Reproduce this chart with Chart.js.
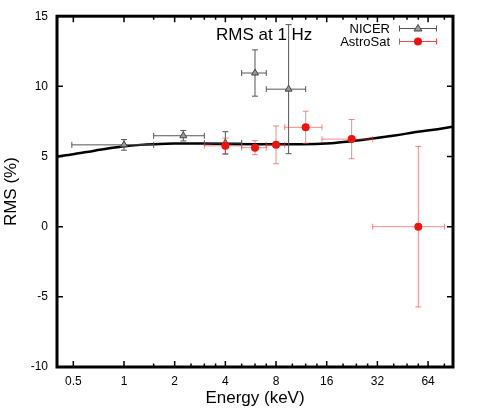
<!DOCTYPE html>
<html>
<head>
<meta charset="utf-8">
<script src="https://cdn.jsdelivr.net/npm/chart.js@4/dist/chart.umd.min.js"></script>
<style>
  html, body { margin: 0; padding: 0; background: #fff; }
  #c { display: block; }
</style>
</head>
<body>
<canvas id="c" width="477" height="409"></canvas>
<script>
// ---- data ----
const nicerE    = [1.0, 2.25, 4.0, 6.0, 9.5];
const nicerELo  = [0.49, 1.5, 3.0, 5.0, 7.0];
const nicerEHi  = [1.5, 3.0, 5.0, 7.0, 12.0];
const nicerRms  = [5.83, 6.48, 5.97, 10.95, 9.8];
const nicerErr  = [0.38, 0.37, 0.8, 1.65, 4.6];

const astroE    = [4.0, 6.0, 8.0, 12.0, 22.5, 56.0];
const astroELo  = [3.0, 5.0, 7.0, 9.0, 15.0, 30.0];
const astroEHi  = [5.0, 7.0, 9.0, 15.0, 30.0, 80.0];
const astroRms  = [5.76, 5.63, 5.83, 7.08, 6.24, 0.0];
const astroErr  = [0.55, 0.5, 1.35, 1.15, 1.4, 5.72];

const modelE    = [0.4, 0.5, 0.6, 0.8, 1.0, 1.25, 1.5, 2, 3, 4, 6, 8, 11, 17, 22.7, 30, 41.5, 55.7, 73, 90];
const modelRms  = [5.0, 5.16, 5.32, 5.57, 5.73, 5.83, 5.88, 5.92, 5.92, 5.9, 5.88, 5.88, 5.88, 5.95, 6.1, 6.28, 6.52, 6.76, 6.95, 7.13];

const xTickValues = [0.5, 1, 2, 4, 8, 16, 32, 64];
const xTickLabels = ['0.5', '1', '2', '4', '8', '16', '32', '64'];
const xMinorTicks = [1.5, 2.5, 3, 3.5, 5, 6, 7, 10, 12, 14, 20, 24, 28, 40, 48, 56, 80];
const yTickValues = [-10, -5, 0, 5, 10, 15];

const FONT = '"Liberation Sans", Arial, Helvetica, sans-serif';
const RED = '#e8140f';
const RED_ERR = 'rgba(236, 60, 55, 0.6)';
const GRAY_ERR = '#555555';

const pts = (xs, ys) => xs.map((x, i) => ({ x: x, y: ys[i] }));

// error bars drawn just before each dataset
const errorBarPlugin = {
  id: 'errorBars',
  beforeDatasetDraw(chart, args) {
    const ds = chart.data.datasets[args.index];
    if (!ds.eLo) return;
    const ctx = chart.ctx, xs = chart.scales.x, ys = chart.scales.y;
    ctx.save();
    ctx.strokeStyle = ds.errColor;
    ctx.lineWidth = 1;
    const cap = 3;
    ds.data.forEach((p, i) => {
      const px = xs.getPixelForValue(p.x), py = ys.getPixelForValue(p.y);
      const x0 = xs.getPixelForValue(ds.eLo[i]), x1 = xs.getPixelForValue(ds.eHi[i]);
      const y0 = ys.getPixelForValue(p.y - ds.yErr[i]), y1 = ys.getPixelForValue(p.y + ds.yErr[i]);
      ctx.beginPath();
      ctx.moveTo(x0, py); ctx.lineTo(x1, py);
      ctx.moveTo(x0, py - cap); ctx.lineTo(x0, py + cap);
      ctx.moveTo(x1, py - cap); ctx.lineTo(x1, py + cap);
      ctx.moveTo(px, y0); ctx.lineTo(px, y1);
      ctx.moveTo(px - cap, y0); ctx.lineTo(px + cap, y0);
      ctx.moveTo(px - cap, y1); ctx.lineTo(px + cap, y1);
      ctx.stroke();
    });
    ctx.restore();
  }
};

// frame, inward ticks, inner title and legend
const framePlugin = {
  id: 'frame',
  afterDraw(chart) {
    const ctx = chart.ctx, a = chart.chartArea, xs = chart.scales.x, ys = chart.scales.y;
    ctx.save();
    ctx.strokeStyle = '#000';
    // ticks
    ctx.lineWidth = 1.5;
    ctx.beginPath();
    xTickValues.forEach(v => {
      const x = xs.getPixelForValue(v);
      ctx.moveTo(x, a.bottom); ctx.lineTo(x, a.bottom - 6);
      ctx.moveTo(x, a.top); ctx.lineTo(x, a.top + 6);
    });
    xMinorTicks.forEach(v => {
      const x = xs.getPixelForValue(v);
      ctx.moveTo(x, a.bottom); ctx.lineTo(x, a.bottom - 3.5);
      ctx.moveTo(x, a.top); ctx.lineTo(x, a.top + 3.5);
    });
    yTickValues.forEach(v => {
      const y = ys.getPixelForValue(v);
      ctx.moveTo(a.left, y); ctx.lineTo(a.left + 6, y);
      ctx.moveTo(a.right, y); ctx.lineTo(a.right - 6, y);
    });
    ctx.stroke();
    // frame
    ctx.lineWidth = 3;
    ctx.strokeRect(a.left, a.top, a.right - a.left, a.bottom - a.top);

    // inner title
    ctx.fillStyle = '#000';
    ctx.font = '17px ' + FONT;
    ctx.textAlign = 'left';
    ctx.textBaseline = 'alphabetic';
    ctx.fillText('RMS at 1 Hz', 216, 39.5);

    // legend
    ctx.font = '13px ' + FONT;
    ctx.textAlign = 'right';
    ctx.fillText('NICER', 390, 33);
    ctx.fillText('AstroSat', 390, 46);
    const lx0 = 399.5, lx1 = 436.5, lxm = 418;
    // NICER sample
    let y = 28.5;
    ctx.lineWidth = 1;
    ctx.strokeStyle = GRAY_ERR;
    ctx.beginPath();
    ctx.moveTo(lx0, y); ctx.lineTo(lx1, y);
    ctx.moveTo(lx0, y - 3); ctx.lineTo(lx0, y + 3);
    ctx.moveTo(lx1, y - 3); ctx.lineTo(lx1, y + 3);
    ctx.stroke();
    ctx.beginPath();
    ctx.moveTo(lxm, y - 4); ctx.lineTo(lxm + 4, y + 2.5); ctx.lineTo(lxm - 4, y + 2.5); ctx.closePath();
    ctx.fillStyle = '#9a9a9a'; ctx.fill();
    ctx.strokeStyle = '#444'; ctx.stroke();
    // AstroSat sample
    y = 41.5;
    ctx.strokeStyle = '#ec4a45';
    ctx.beginPath();
    ctx.moveTo(lx0, y); ctx.lineTo(lx1, y);
    ctx.moveTo(lx0, y - 3); ctx.lineTo(lx0, y + 3);
    ctx.moveTo(lx1, y - 3); ctx.lineTo(lx1, y + 3);
    ctx.stroke();
    ctx.beginPath();
    ctx.arc(lxm, y, 4, 0, Math.PI * 2);
    ctx.fillStyle = RED; ctx.fill();
    ctx.restore();
  }
};

new Chart(document.getElementById('c'), {
  type: 'scatter',
  data: {
    datasets: [
      {
        label: 'AstroSat',
        data: pts(astroE, astroRms),
        eLo: astroELo, eHi: astroEHi, yErr: astroErr, errColor: RED_ERR,
        pointStyle: 'circle', pointRadius: 4, backgroundColor: RED, borderColor: RED, borderWidth: 0,
        order: 1
      },
      {
        label: 'NICER',
        data: pts(nicerE, nicerRms),
        eLo: nicerELo, eHi: nicerEHi, yErr: nicerErr, errColor: GRAY_ERR,
        pointStyle: 'triangle', pointRadius: 4, backgroundColor: '#9a9a9a', borderColor: '#444', borderWidth: 1,
        order: 2
      },
      {
        label: 'model',
        type: 'line',
        data: pts(modelE, modelRms),
        borderColor: '#000', borderWidth: 2.5, pointRadius: 0, fill: false,
        cubicInterpolationMode: 'monotone',
        order: 3
      }
    ]
  },
  options: {
    responsive: false,
    animation: false,
    events: [],
    layout: { padding: { top: 15, right: 24, left: 0, bottom: 0 } },
    plugins: { legend: { display: false }, tooltip: { enabled: false } },
    scales: {
      x: {
        type: 'logarithmic',
        min: 0.4, max: 90,
        afterBuildTicks: s => { s.ticks = xTickValues.map(v => ({ value: v })); },
        afterFit: s => { s.height = 42; },
        ticks: {
          autoSkip: false, maxRotation: 0, padding: 7, color: '#000',
          font: { family: FONT, size: 12 },
          callback: (v, i) => xTickLabels[i]
        },
        grid: { display: false, drawTicks: false },
        border: { display: false },
        title: { display: true, text: 'Energy (keV)', color: '#000', font: { family: FONT, size: 17 }, padding: { top: 0, bottom: 0 } }
      },
      y: {
        min: -10, max: 15,
        afterBuildTicks: s => { s.ticks = yTickValues.map(v => ({ value: v })); },
        afterFit: s => { s.width = 57; },
        ticks: { padding: 9, color: '#000', font: { family: FONT, size: 12 } },
        grid: { display: false, drawTicks: false },
        border: { display: false },
        title: { display: true, text: 'RMS (%)', color: '#000', font: { family: FONT, size: 17 }, padding: { top: 1.5, bottom: 0 } }
      }
    }
  },
  plugins: [errorBarPlugin, framePlugin]
});
</script>
</body>
</html>
